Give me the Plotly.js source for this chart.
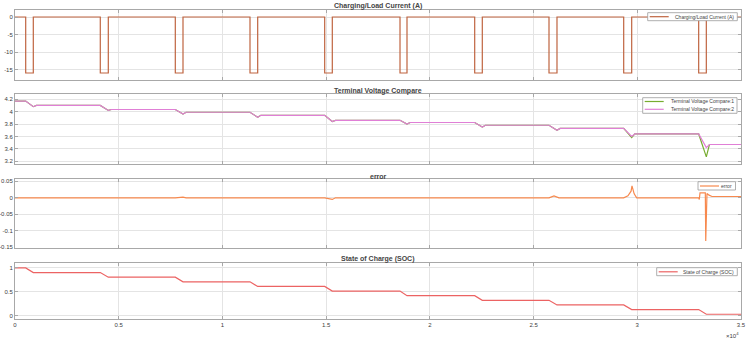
<!DOCTYPE html>
<html><head><meta charset="utf-8">
<script src="https://cdn.plot.ly/plotly-3.0.1.min.js"></script>
<style>html,body{margin:0;padding:0;background:#fff}#chart{width:748px;height:341px}</style>
</head><body><div id="chart"></div>
<script>
// ---- data ----
const xTickVals = [0, 5000, 10000, 15000, 20000, 25000, 30000, 35000];
const xTickText = ['0', '0.5', '1', '1.5', '2', '2.5', '3', '3.5'];
const timeEnd = 35000;

const pulseStart = [516, 4112, 7728, 11329, 14930, 18561, 22162, 25744, 29345, 32960];
const pulseEnd   = [882, 4498, 8099, 11700, 15297, 18898, 22528, 26129, 29730, 33328];
const pulseCurrent = -16;

const voltRest = [4.17, 4.10, 4.035, 3.99, 3.94, 3.86, 3.825, 3.78, 3.73, 3.64, 3.47];
const voltDip1 = [4.08, 4.02, 3.96, 3.91, 3.84, 3.80, 3.75, 3.70, 3.58, 3.27];
const voltDip2 = [4.08, 4.02, 3.96, 3.91, 3.84, 3.80, 3.75, 3.70, 3.60, 3.42];
const voltRecovery = 150;

const errTime  = [0, 516, 882, 1000, 4112, 4498, 4650, 7728, 8099, 8250, 14930, 15297, 15450,
                  25744, 25985, 26226, 29345, 29550, 29700, 29745, 29850, 29972,
                  32960, 32990, 33024, 33280, 33300, 33360, 33460, 33600, 35000];
const errValue = [0, 0, -0.002, 0, 0, -0.001, 0, 0, 0.002, 0, 0, -0.005, 0,
                  0, 0.006, 0, 0, 0.006, 0.02, 0.036, 0.012, 0,
                  0, -0.005, 0.015, 0.015, -0.131, 0.013, 0.008, 0.004, 0.004];

const socLevels = [1.0, 0.903, 0.806, 0.709, 0.612, 0.515, 0.418, 0.321, 0.224, 0.127, 0.03];

// ---- build series ----
function currentSeries() {
  const t = [0], v = [0];
  pulseStart.forEach((s, i) => { t.push(s, s, pulseEnd[i], pulseEnd[i]); v.push(0, pulseCurrent, pulseCurrent, 0); });
  t.push(timeEnd); v.push(0);
  return {t, v};
}
function voltSeries(dips) {
  const t = [0], v = [voltRest[0]];
  pulseStart.forEach((s, i) => { t.push(s, pulseEnd[i], pulseEnd[i] + voltRecovery); v.push(voltRest[i], dips[i], voltRest[i + 1]); });
  t.push(timeEnd); v.push(voltRest[voltRest.length - 1]);
  return {t, v};
}
function socSeries() {
  const t = [0], v = [socLevels[0]];
  pulseStart.forEach((s, i) => { t.push(s, pulseEnd[i]); v.push(socLevels[i], socLevels[i + 1]); });
  t.push(timeEnd); v.push(socLevels[socLevels.length - 1]);
  return {t, v};
}

const cur = currentSeries(), v1 = voltSeries(voltDip1), v2 = voltSeries(voltDip2), soc = socSeries();

const C_CUR = '#bf6440', C_V1 = '#77ac30', C_V2 = '#e07fd6', C_ERR = '#f7894e', C_SOC = '#ec6363';

const traces = [
  {x: cur.t, y: cur.v, xaxis: 'x', yaxis: 'y', mode: 'lines', name: 'Charging/Load Current (A)', line: {color: C_CUR, width: 1.2}},
  {x: v1.t, y: v1.v, xaxis: 'x2', yaxis: 'y2', mode: 'lines', name: 'Terminal Voltage Compare:1', line: {color: C_V1, width: 1.2}},
  {x: v2.t, y: v2.v, xaxis: 'x2', yaxis: 'y2', mode: 'lines', name: 'Terminal Voltage Compare:2', line: {color: C_V2, width: 1.2}},
  {x: errTime, y: errValue, xaxis: 'x3', yaxis: 'y3', mode: 'lines', name: 'error', line: {color: C_ERR, width: 1.2}},
  {x: soc.t, y: soc.v, xaxis: 'x4', yaxis: 'y4', mode: 'lines', name: 'State of Charge (SOC)', line: {color: C_SOC, width: 1.2}}
];

// ---- layout helpers (pixel -> paper) ----
const W = 748, H = 341, ML = 15, MR = 7;
const px = p => (p - ML) / (W - ML - MR);
const py = p => 1 - p / H;
const FONT = 'Liberation Sans, Arial, sans-serif';
const LINE = '#a8a8a8', GRID = '#e4e4e4', TXT = '#404040';

function xax(anchor, showLabels) {
  const a = {anchor, domain: [0, 1], range: [0, timeEnd], tickvals: xTickVals, ticktext: xTickText,
    showticklabels: showLabels, ticks: 'inside', ticklen: 3, tickcolor: LINE, showline: true, mirror: 'ticks',
    linecolor: LINE, linewidth: 1, showgrid: true, gridcolor: GRID, zeroline: false,
    tickfont: {family: FONT, size: 6, color: TXT}, automargin: false};
  if (anchor !== 'y') a.matches = 'x';
  return a;
}
function yax(anchor, top, bottom, range, tickvals, ticktext) {
  return {anchor, domain: [py(bottom), py(top)], range, tickvals, ticktext,
    ticks: 'inside', ticklen: 3, tickcolor: LINE, showline: true, mirror: 'ticks', linecolor: LINE, linewidth: 1,
    showgrid: true, gridcolor: GRID, zeroline: false, tickfont: {family: FONT, size: 6, color: TXT}, automargin: false};
}

const titles = [['Charging/Load Current (A)', 6], ['Terminal Voltage Compare', 91], ['error', 176], ['State of Charge (SOC)', 259]];
const annotations = titles.map(([t, y]) => ({text: '<b>' + t + '</b>', xref: 'paper', yref: 'paper', x: px(378), y: py(y),
  xanchor: 'center', yanchor: 'middle', showarrow: false, font: {family: FONT, size: 7, color: '#444'}}));
annotations.push({text: '×10<sup>4</sup>', xref: 'paper', yref: 'paper', x: px(741), y: py(335), xanchor: 'right', yanchor: 'middle',
  showarrow: false, font: {family: FONT, size: 6, color: TXT}});

const shapes = [];
function legendBox(x0, x1, y0, y1, entries) {
  shapes.push({type: 'rect', xref: 'paper', yref: 'paper', x0: px(x0), x1: px(x1), y0: py(y1), y1: py(y0),
    line: {color: '#9a9a9a', width: 0.8}, fillcolor: '#ffffff', layer: 'above'});
  entries.forEach(([name, color, y]) => {
    shapes.push({type: 'line', xref: 'paper', yref: 'paper', x0: px(x0 + 2), x1: px(x0 + 21), y0: py(y), y1: py(y),
      line: {color, width: 1.2}, layer: 'above'});
    annotations.push({text: name, xref: 'paper', yref: 'paper', x: px(x1 - 1.5), y: py(y), xanchor: 'right', yanchor: 'middle',
      showarrow: false, font: {family: FONT, size: 5, color: '#444'}});
  });
}
legendBox(647.7, 737.3, 12.7, 20.7, [['Charging/Load Current (A)', C_CUR, 16.7]]);
legendBox(642.7, 737, 97.7, 113.3, [['Terminal Voltage Compare:1', C_V1, 101.5], ['Terminal Voltage Compare:2', C_V2, 109.3]]);
legendBox(698, 735.5, 181.7, 190, [['error', C_ERR, 186]]);
legendBox(656.7, 737.3, 267.7, 275.7, [['State of Charge (SOC)', C_SOC, 271.8]]);

const layout = {
  width: W, height: H, margin: {l: ML, r: MR, t: 0, b: 0}, paper_bgcolor: '#fff', plot_bgcolor: '#fff',
  showlegend: false, font: {family: FONT, size: 6, color: TXT},
  xaxis: xax('y', false), xaxis2: xax('y2', false), xaxis3: xax('y3', false), xaxis4: xax('y4', true),
  yaxis: yax('x', 10, 80, [-18, 2], [-15, -10, -5, 0], ['-15', '-10', '-5', '0']),
  yaxis2: yax('x2', 94.3, 164.3, [3.15, 4.28], [3.2, 3.4, 3.6, 3.8, 4, 4.2], ['3.2', '3.4', '3.6', '3.8', '4', '4.2']),
  yaxis3: yax('x3', 179, 248.3, [-0.153, 0.057], [-0.15, -0.1, -0.05, 0, 0.05], ['-0.15', '-0.1', '-0.05', '0', '0.05']),
  yaxis4: yax('x4', 262.7, 319, [-0.07, 1.11], [0, 0.5, 1], ['0', '0.5', '1']),
  annotations, shapes
};
Plotly.newPlot('chart', traces, layout, {displayModeBar: false, staticPlot: true});
</script></body></html>
